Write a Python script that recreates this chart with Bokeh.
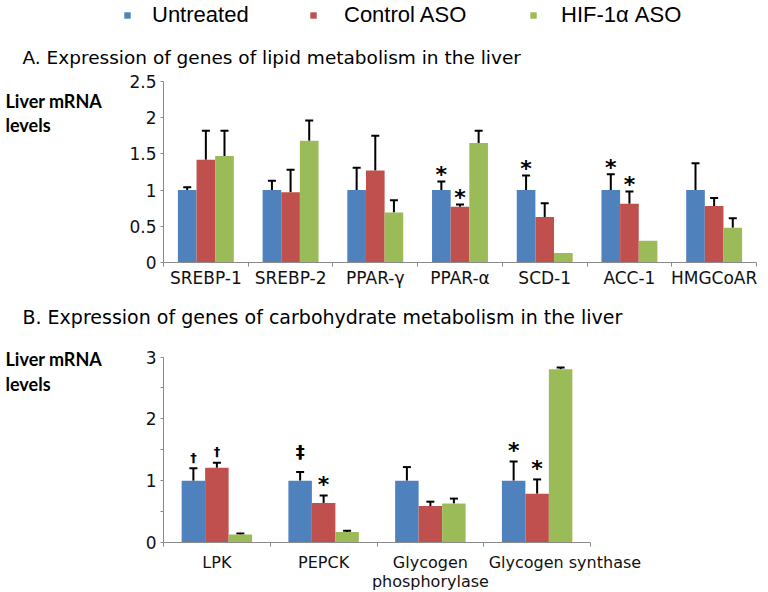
from bokeh.plotting import figure
from bokeh.models import (ColumnDataSource, FixedTicker, Whisker, TeeHead, Label,
                          Legend, LegendItem, Range1d, LinearAxis)
from bokeh.embed import file_html
from bokeh.resources import INLINE
from bokeh.core.properties import value

# ---------------- data ----------------
groups = ["Untreated", "Control ASO", "HIF-1\u03b1 ASO"]

genes_a = ["SREBP-1", "SREBP-2", "PPAR-\u03b3", "PPAR-\u03b1", "SCD-1", "ACC-1", "HMGCoAR"]
untreated_a = [1.00, 1.00, 1.00, 1.00, 1.00, 1.00, 1.00]
untreated_a_err = [0.04, 0.13, 0.31, 0.12, 0.20, 0.22, 0.37]
control_a = [1.42, 0.97, 1.27, 0.77, 0.63, 0.81, 0.78]
control_a_err = [0.40, 0.31, 0.48, 0.03, 0.19, 0.17, 0.11]
hif_a = [1.47, 1.68, 0.69, 1.65, 0.13, 0.30, 0.48]
hif_a_err = [0.35, 0.28, 0.17, 0.17, 0.0, 0.0, 0.13]
marks_a = [("PPAR-\u03b1", "Untreated", "*"), ("PPAR-\u03b1", "Control ASO", "*"),
           ("SCD-1", "Untreated", "*"), ("ACC-1", "Untreated", "*"),
           ("ACC-1", "Control ASO", "*")]
yticks_a = [0, 0.5, 1, 1.5, 2, 2.5]

genes_b = ["LPK", "PEPCK", "Glycogen\nphosphorylase", "Glycogen synthase"]
untreated_b = [1.00, 1.00, 1.00, 1.00]
untreated_b_err = [0.20, 0.14, 0.22, 0.31]
control_b = [1.21, 0.64, 0.59, 0.79]
control_b_err = [0.08, 0.12, 0.07, 0.23]
hif_b = [0.13, 0.17, 0.63, 2.80]
hif_b_err = [0.015, 0.02, 0.08, 0.03]
marks_b = [("LPK", "Untreated", "\u2020"), ("LPK", "Control ASO", "\u2020"),
           ("PEPCK", "Untreated", "\u2021"), ("PEPCK", "Control ASO", "*"),
           ("Glycogen synthase", "Untreated", "*"), ("Glycogen synthase", "Control ASO", "*")]
yticks_b = [0, 1, 2, 3]
yminor_b = [0.5, 1.5, 2.5]

title_a = "A.  Expression of genes of lipid metabolism in the liver"
title_b = "B.  Expression of genes of carbohydrate metabolism in the liver"
ylabel_lines = ["Liver mRNA", "levels"]

# ---------------- style / layout ----------------
W, H = 768, 592
colors = ["#4F81BD", "#C0504D", "#9BBB59"]
offsets = [-0.22, 0.0, 0.22]
BAR_W = 0.22
AXIS_COL = "#8a8a8a"
TXT_COL = "#111111"
TICK_FONT = "DejaVu Sans"
mark_sizes = {"*": "22px", "\u2020": "13px", "\u2021": "18px"}
mark_lift_a = {"*": -7, "\u2020": -9, "\u2021": -12}
mark_lift_b = {"*": -11, "\u2020": -11, "\u2021": -21}
label_shift_a = [0, 0, 0, 0, 0, 0, 0]
label_shift_b = [0, 0, 0, 0.26]
legend_x = [123, 309, 529]
legend_standoff = [21, 27, 24]


def x_rng(v0, px0, v1, px1):
    s = (px1 - px0) / (v1 - v0)
    return Range1d(v0 - px0 / s, v0 + (W - px0) / s)


def y_rng(v0, py0, v1, py1):
    # py measured from the top of the canvas
    b0, b1 = H - py0, H - py1
    s = (b1 - b0) / (v1 - v0)
    return Range1d(v0 - b0 / s, v0 + (H - b0) / s)


p = figure(width=W, height=H, output_backend="svg", toolbar_location=None,
           x_range=x_rng(0.5, 163, len(genes_a) + 0.5, 756),
           y_range=y_rng(0, 262, 2.5, 81),
           min_border=0, min_border_left=0, min_border_right=0,
           min_border_top=0, min_border_bottom=0,
           x_axis_type=None, y_axis_type=None)
p.extra_x_ranges = {"bx": x_rng(0.5, 163, len(genes_b) + 0.5, 590)}
p.extra_y_ranges = {"by": y_rng(0, 542, 3, 356.5)}
p.outline_line_color = None
p.background_fill_color = "white"
p.border_fill_color = "white"


def draw_panel(genes, series, errs, marks, yticks, yminor, ymax, xr, yr,
               cat_font_size, std_x, lifts, label_shift):
    n = len(genes)
    rkw = {} if xr is None else dict(x_range_name=xr, y_range_name=yr)
    renderers = []
    for gi, (vals, ers) in enumerate(zip(series, errs)):
        xs = [i + 1 + offsets[gi] for i in range(n)]
        src = ColumnDataSource(dict(x=xs, top=vals))
        r = p.vbar(x="x", top="top", width=BAR_W, source=src,
                   fill_color=colors[gi], line_color=None, **rkw)
        renderers.append(r)
        keep = [i for i in range(n) if ers[i] > 0]
        wsrc = ColumnDataSource(dict(x=[xs[i] for i in keep],
                                     lo=[vals[i] for i in keep],
                                     hi=[vals[i] + ers[i] for i in keep]))
        w = Whisker(source=wsrc, base="x", lower="lo", upper="hi", dimension="height",
                    line_color="black", line_width=2, lower_head=None,
                    upper_head=TeeHead(size=8, line_width=2, line_color="black"), **rkw)
        p.add_layout(w)

    for sym in sorted(set(m[2] for m in marks)):
        mx, my = [], []
        for gene, grp, s in marks:
            if s != sym:
                continue
            i = genes.index(gene)
            gi = groups.index(grp)
            mx.append(i + 1 + offsets[gi])
            my.append(series[gi][i] + errs[gi][i])
        msrc = ColumnDataSource(dict(x=mx, y=my, t=[sym] * len(mx)))
        p.text(x="x", y="y", text="t", source=msrc, text_font=value("DejaVu Sans"),
               text_font_style="bold", text_font_size=mark_sizes[sym], text_align="center",
               text_baseline="middle", y_offset=lifts[sym], text_color="black", **rkw)

    label_pos = [i + 1 + label_shift[i] for i in range(n)]
    xaxis = LinearAxis(ticker=FixedTicker(ticks=label_pos,
                                          minor_ticks=[i + 0.5 for i in range(n + 1)]),
                       major_label_overrides={pos: g for pos, g in zip(label_pos, genes)},
                       fixed_location=0, bounds=(0.5, n + 0.5), **rkw)
    xaxis.axis_line_color = AXIS_COL
    xaxis.major_tick_out = 0
    xaxis.major_tick_in = 0
    xaxis.minor_tick_out = 4
    xaxis.minor_tick_in = 0
    xaxis.minor_tick_line_color = AXIS_COL
    xaxis.major_label_text_font = TICK_FONT
    xaxis.major_label_text_font_size = cat_font_size
    xaxis.major_label_text_color = TXT_COL
    xaxis.major_label_standoff = std_x
    xaxis.major_label_text_line_height = 1.05
    p.add_layout(xaxis, "below")

    yaxis = LinearAxis(ticker=FixedTicker(ticks=yticks, minor_ticks=yminor),
                       major_label_overrides={t: f"{t:g}" for t in yticks},
                       fixed_location=0.5, bounds=(0, ymax), **rkw)
    yaxis.axis_line_color = AXIS_COL
    yaxis.major_tick_line_color = AXIS_COL
    yaxis.major_tick_out = 3
    yaxis.major_tick_in = 0
    yaxis.minor_tick_line_color = AXIS_COL
    yaxis.minor_tick_out = 3
    yaxis.minor_tick_in = 0
    yaxis.major_label_text_font = TICK_FONT
    yaxis.major_label_text_font_size = "17px"
    yaxis.major_label_text_color = TXT_COL
    yaxis.major_label_standoff = 4
    p.add_layout(yaxis, "left")
    return renderers


rends = draw_panel(genes_a, [untreated_a, control_a, hif_a],
                   [untreated_a_err, control_a_err, hif_a_err], marks_a,
                   yticks_a, [], 2.5, None, None, "17px", 1, mark_lift_a, label_shift_a)
draw_panel(genes_b, [untreated_b, control_b, hif_b],
           [untreated_b_err, control_b_err, hif_b_err], marks_b,
           yticks_b, yminor_b, 3, "bx", "by", "16px", 6, mark_lift_b, label_shift_b)

for g, r, lx, ls in zip(groups, rends, legend_x, legend_standoff):
    leg = Legend(items=[LegendItem(label=g, renderers=[r])],
                 orientation="horizontal", location=(lx, H - 28),
                 glyph_width=8, glyph_height=8, label_standoff=ls, spacing=0,
                 padding=0, margin=0, border_line_color=None, background_fill_alpha=0,
                 label_text_font="Liberation Sans", label_text_font_size="22px",
                 label_text_color="black")
    p.add_layout(leg)


def add_text(txt, x, y_top_px, font, size, bold=False):
    p.add_layout(Label(x=x, y=H - y_top_px, x_units="screen", y_units="screen", text=txt,
                       text_font=font, text_font_size=size,
                       text_font_style="bold" if bold else "normal",
                       text_color="black", text_baseline="middle"))


add_text(title_a, 22, 57, "DejaVu Sans", "18.5px")
add_text(title_b, 22, 316, "DejaVu Sans", "19px")
for yy, line in zip([100, 124], ylabel_lines):
    add_text(line, 5, yy, "Lato", "18px", bold=True)
for yy, line in zip([358, 383], ylabel_lines):
    add_text(line, 5, yy, "Lato", "18px", bold=True)

open("out.html", "w").write(file_html(p, INLINE))
